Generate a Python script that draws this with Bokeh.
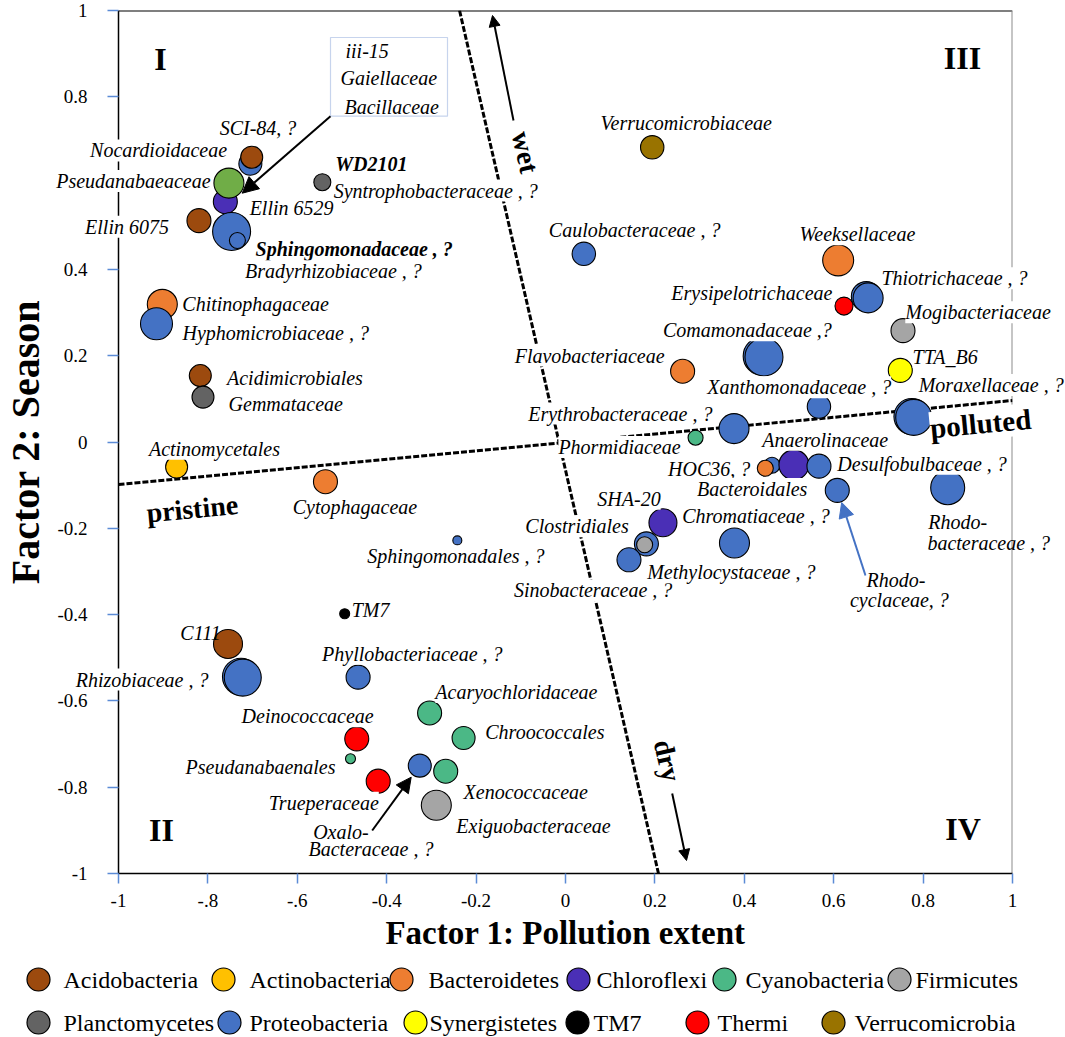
from bokeh.plotting import figure
from bokeh.models import (ColumnDataSource, Span, Arrow, NormalHead,
                          BoxAnnotation, FixedTicker, Range1d)
from bokeh.core.properties import value
from bokeh.embed import file_html
from bokeh.resources import INLINE

SERIF = "Liberation Serif"

# ------------------------------------------------------------------ data
phyla = ["Acidobacteria", "Actinobacteria", "Bacteroidetes", "Chloroflexi", "Cyanobacteria", "Firmicutes",
         "Planctomycetes", "Proteobacteria", "Synergistetes", "TM7", "Thermi", "Verrucomicrobia"]
phylum_colors = ["#9c4a0e", "#ffc000", "#ed7d31", "#4a2fb6", "#4bb886", "#a5a5a5",
                 "#636363", "#4472c4", "#ffff00", "#000000", "#ff0000", "#997300"]
unassigned_color = "#70ad47"

# family-level bubbles: Factor 1 (pollution extent), Factor 2 (season)
factor1 = [-0.705, -0.702, -0.761, -0.753, -0.820, -0.747, -0.734, -0.544, -0.902, -0.915,
           -0.817, -0.811, -0.870, -0.537, -0.242, 0.194, 0.041, 0.610, 0.673, 0.677,
           0.623, 0.755, 0.440, 0.444, 0.262, 0.749, 0.567, 0.775, 0.779, 0.377,
           0.291, 0.462, 0.447, 0.511, 0.567, 0.608, 0.855, 0.218, 0.181, 0.177,
           0.142, 0.378, -0.494, -0.755, -0.726, -0.722, -0.464, -0.304, -0.228, -0.467,
           -0.481, -0.326, -0.268, -0.419, -0.289]
factor2 = [0.645, 0.660, 0.557, 0.600, 0.513, 0.488, 0.467, 0.602, 0.319, 0.274,
           0.154, 0.104, -0.058, -0.092, -0.228, 0.683, 0.436, 0.421, 0.337, 0.334,
           0.315, 0.258, 0.199, 0.197, 0.164, 0.166, 0.082, 0.059, 0.057, 0.031,
           0.010, -0.054, -0.061, -0.053, -0.056, -0.112, -0.106, -0.187, -0.236, -0.238,
           -0.273, -0.234, -0.398, -0.468, -0.544, -0.546, -0.545, -0.628, -0.686, -0.688,
           -0.734, -0.750, -0.763, -0.786, -0.842]
phylum = ["Proteobacteria", "Acidobacteria", "Chloroflexi", "Unassigned", "Acidobacteria",
          "Proteobacteria", "Proteobacteria", "Planctomycetes", "Bacteroidetes", "Proteobacteria",
          "Acidobacteria", "Planctomycetes", "Actinobacteria", "Bacteroidetes", "Proteobacteria",
          "Verrucomicrobia", "Proteobacteria", "Bacteroidetes", "Proteobacteria", "Proteobacteria",
          "Thermi", "Firmicutes", "Proteobacteria", "Proteobacteria", "Bacteroidetes",
          "Synergistetes", "Proteobacteria", "Proteobacteria", "Proteobacteria", "Proteobacteria",
          "Cyanobacteria", "Proteobacteria", "Bacteroidetes", "Chloroflexi", "Proteobacteria",
          "Proteobacteria", "Proteobacteria", "Chloroflexi", "Proteobacteria", "Firmicutes",
          "Proteobacteria", "Proteobacteria", "TM7", "Acidobacteria", "Proteobacteria",
          "Proteobacteria", "Proteobacteria", "Cyanobacteria", "Cyanobacteria", "Thermi",
          "Cyanobacteria", "Proteobacteria", "Cyanobacteria", "Thermi", "Firmicutes"]
bubble_radius = [11.5, 11, 12, 15, 12, 19, 8, 8.5, 15, 16,
                 11, 11, 11, 12, 4.5, 11.7, 11.7, 15.5, 15, 15,
                 9, 12, 19, 19, 12, 12, 11.7, 18, 18, 15,
                 7.5, 8, 8, 15, 12, 12, 17, 14, 12, 8,
                 12, 15, 5, 14.5, 18.5, 18.5, 12, 12, 11.5, 12,
                 5, 11.5, 12, 12, 15]

# taxon names and the bubble each one names
taxon_names = ["SCI-84, ?", "Nocardioidaceae", "Pseudanabaeaceae", "Ellin 6529", "Ellin 6075",
               "Sphingomonadaceae , ?", "Bradyrhizobiaceae , ?", "WD2101", "Syntrophobacteraceae , ?",
               "Chitinophagaceae", "Hyphomicrobiaceae , ?", "Acidimicrobiales", "Gemmataceae",
               "Actinomycetales", "Cytophagaceae", "Sphingomonadales , ?", "Verrucomicrobiaceae",
               "Caulobacteraceae , ?", "Weeksellaceae", "Thiotrichaceae , ?", "Erysipelotrichaceae",
               "Mogibacteriaceae", "Comamonadaceae ,?", "Flavobacteriaceae", "TTA_B6",
               "Xanthomonadaceae , ?", "Moraxellaceae , ?", "Erythrobacteraceae , ?", "Phormidiaceae",
               "HOC36, ?", "Anaerolinaceae", "Desulfobulbaceae , ?", "Bacteroidales",
               "Rhodo-", "cyclaceae, ?", "Rhodo-", "bacteraceae , ?", "SHA-20", "Clostridiales",
               "Sinobacteraceae , ?", "Chromatiaceae , ?", "Methylocystaceae , ?", "TM7", "C111",
               "Rhizobiaceae , ?", "Phyllobacteriaceae , ?", "Acaryochloridaceae", "Chroococcales",
               "Deinococcaceae", "Pseudanabaenales", "Oxalo-", "Bacteraceae , ?", "Xenococcaceae",
               "Trueperaceae", "Exiguobacteraceae"]
taxon_bubble = [1, 0, 3, 2, 4, 5, 6, 7, 7, 8, 9, 10, 11, 12, 13, 14, 15, 16, 17, 19, 20, 21, 23, 24, 25,
                26, 28, 29, 30, 32, 33, 34, 32, 35, 35, 36, 36, 37, 38, 40, 41, 41, 42, 43, 45, 46, 47,
                48, 49, 50, 51, 51, 52, 53, 54]
boxed_taxa = ["iii-15", "Gaiellaceae", "Bacillaceae"]

tick_values = [-1, -0.8, -0.6, -0.4, -0.2, 0, 0.2, 0.4, 0.6, 0.8, 1]
x_tick_labels = ["-1", "-.8", "-.6", "-0.4", "-0.2", "0", "0.2", "0.4", "0.6", "0.8", "1"]
y_tick_labels = ["-1", "-0.8", "-0.6", "-0.4", "-0.2", "0", "0.2", "0.4", "0.6", "0.8", "1"]

# ------------------------------------------------------------------ layout (pixels)
FRAME_L, FRAME_T, FRAME_W, FRAME_H = 118, 10, 894, 863
PX_X = FRAME_W / 2.0        # pixels per unit of factor 1
PX_Y = FRAME_H / 2.0        # pixels per unit of factor 2


def fx(px):                 # canvas x pixel -> factor-1 coordinate
    return (px - FRAME_L) / PX_X - 1


def fy(py):                 # canvas y pixel -> factor-2 coordinate
    return 1 - (py - FRAME_T) / PX_Y


# label placement relative to its bubble: (dx px, dy px up, align, style, white background)
label_layout = [
    (-32, 29.4, "left", "italic", 1), (-23.3, 13.3, "right", "italic", 1), (-18.3, 2, "right", "italic", 1),
    (24.3, -6.3, "left", "italic", 1), (-30, -6, "right", "italic", 1), (24, -17.3, "left", "bold italic", 1),
    (7.6, -30.7, "left", "italic", 1), (13, 18.4, "left", "bold italic", 1), (11.3, -8.3, "left", "italic", 1),
    (20, 0, "left", "italic", 1), (26, -9.7, "left", "italic", 1), (26.7, -2.3, "left", "italic", 1),
    (25.6, -6.6, "left", "italic", 1), (-27.7, 18.4, "left", "italic", 1), (-32.7, -25.7, "left", "italic", 1),
    (-90, -16, "left", "italic", 1), (-51.7, 24, "left", "italic", 1), (-35, 24, "left", "italic", 1),
    (-38.7, 26, "left", "italic", 1), (13.3, 19.6, "left", "italic", 1), (-11.6, 13, "right", "italic", 1),
    (2.3, 18.3, "left", "italic", 1), (-101, 26.7, "left", "italic", 1), (-18, 15.7, "right", "italic", 1),
    (12.3, 13.3, "left", "italic", 1), (-111.6, 19.3, "left", "italic", 1), (5, 32.4, "left", "italic", 1),
    (-21.6, 15, "right", "italic", 1), (-15, -9.4, "right", "italic", 1), (-15, -0.6, "right", "italic", 1),
    (-31.6, 25, "left", "italic", 1), (18.4, 2.4, "left", "italic", 1), (-68.3, -20.6, "left", "italic", 1),
    (29.3, -89.3, "left", "italic", 1), (12.7, -110, "left", "italic", 0), (-19.5, -34.4, "left", "italic", 1),
    (-20.3, -55, "left", "italic", 0), (-65.6, 24, "left", "italic", 1), (-17.7, 17.6, "right", "italic", 1),
    (-115, -30.7, "left", "italic", 1), (-52.3, 27.3, "left", "italic", 1), (-87.3, -29.4, "left", "italic", 1),
    (7, 3.3, "left", "italic", 1), (-47.7, 10.6, "left", "italic", 0), (-34.3, -2, "right", "italic", 1),
    (-36, 23.4, "left", "italic", 1), (5.7, 21, "left", "italic", 1), (21.7, 6, "left", "italic", 1),
    (17, 22.6, "right", "italic", 1), (-15, -8.4, "right", "italic", 1), (-106.6, -66.7, "left", "italic", 0),
    (-111.3, -83.3, "left", "italic", 0), (17.9, -21, "left", "italic", 1), (0.6, -21.6, "right", "italic", 1),
    (20, -21, "left", "italic", 1),
]

color_of = dict(zip(phyla, phylum_colors))
color_of["Unassigned"] = unassigned_color

# ------------------------------------------------------------------ figure
p = figure(frame_width=FRAME_W, frame_height=FRAME_H, x_range=Range1d(-1, 1), y_range=Range1d(-1, 1),
           toolbar_location=None, output_backend="svg",
           min_border_left=FRAME_L, min_border_right=1065 - FRAME_L - FRAME_W, min_border_top=FRAME_T,
           min_border_bottom=1037 - FRAME_T - FRAME_H,
           outline_line_color=None, background_fill_color="white", border_fill_color="white")
p.xgrid.visible = False
p.ygrid.visible = False

for ax, labels in ((p.xaxis[0], x_tick_labels), (p.yaxis[0], y_tick_labels)):
    ax.ticker = FixedTicker(ticks=tick_values)
    ax.major_label_overrides = {float(t): l for t, l in zip(tick_values, labels)}
    ax.major_tick_in = 0
    ax.major_tick_line_color = "#5b8bd6"
    ax.major_tick_line_width = 1.5
    ax.minor_tick_line_color = None
    ax.axis_line_color = "black"
    ax.axis_line_width = 1.5
    ax.major_label_text_font = SERIF
    ax.major_label_text_font_size = "19px"
    ax.major_label_text_color = "black"
    ax.axis_label_text_font = SERIF
    ax.axis_label_text_font_style = "bold"
    ax.axis_label_text_color = "black"

p.xaxis.axis_label = "Factor 1: Pollution extent"
p.yaxis.axis_label = "Factor 2: Season"
p.xaxis.axis_label_text_font_size = "33px"
p.yaxis.axis_label_text_font_size = "40px"
p.xaxis.major_tick_out = 10
p.xaxis.major_label_standoff = 10
p.xaxis.axis_label_standoff = 5
p.yaxis.major_tick_out = 11
p.yaxis.major_label_standoff = 20
p.yaxis.axis_label_standoff = 6

p.add_layout(Span(location=1, dimension="width", line_color="black", line_width=2, level="underlay"))
p.add_layout(Span(location=1, dimension="height", line_color="#8c8c8c", line_width=2, level="underlay"))

# box listing taxa hidden under the bubble
p.add_layout(BoxAnnotation(left=fx(330), right=fx(447), bottom=fy(115.7), top=fy(37),
                           fill_color="white", fill_alpha=1, line_color="#4472c4", line_width=1.2,
                           level="underlay"))

# interpretation axes (pollution and season directions)
pollution_axis_f1 = [-1, 1]
pollution_axis_f2 = [-0.0985, 0.0962]
season_axis_f1 = [-0.237, 0.208]
season_axis_f2 = [1, -1]
p.line(pollution_axis_f1, pollution_axis_f2, line_color="black", line_width=3, line_dash="6 2")
p.line(season_axis_f1, season_axis_f2, line_color="black", line_width=3, line_dash="6 2")

src = ColumnDataSource(dict(x=factor1, y=factor2,
                            color=[color_of[ph] for ph in phylum],
                            size=[2 * r for r in bubble_radius]))
p.scatter("x", "y", source=src, size="size", fill_color="color", line_color="black", line_width=1.1)

# arrows
arrow_specs = [
    ((330, 115.7), (241.7, 192.7), "black", 16),
    ((513, 120), (492, 15), "black", 11),
    ((671.7, 793), (686, 860), "black", 11),
    ((371.7, 830), (410.7, 776.7), "black", 15),
    ((865, 575), (841.2, 502), "#4472c4", 15),
]
for (xs, ys), (xe, ye), col, hs in arrow_specs:
    p.add_layout(Arrow(x_start=fx(xs), y_start=fy(ys), x_end=fx(xe), y_end=fy(ye), line_color=col,
                       line_width=2, end=NormalHead(size=hs, fill_color=col, line_color=col)))

# taxon labels (drawn above the axes so that their white boxes mask lines, as in the original)
lab = dict(x=[], y=[], text=[], align=[], style=[], bga=[])
for name, bi, (dx, dy, al, st, bg) in zip(taxon_names, taxon_bubble, label_layout):
    lab["x"].append(factor1[bi] + dx / PX_X)
    lab["y"].append(factor2[bi] + dy / PX_Y)
    lab["text"].append(name)
    lab["align"].append(al)
    lab["style"].append(st)
    lab["bga"].append(float(bg))
boxed_px = [(345, 50.7), (340, 77), (344, 106.7)]
for name, (bx, by) in zip(boxed_taxa, boxed_px):
    lab["x"].append(fx(bx)); lab["y"].append(fy(by)); lab["text"].append(name)
    lab["align"].append("left"); lab["style"].append("italic"); lab["bga"].append(0.0)

p.text(x="x", y="y", text="text", source=ColumnDataSource(lab), text_align="align",
       text_font_style="style", text_baseline="middle", text_font=value(SERIF),
       text_font_size=value("20px"), text_color="black",
       background_fill_color="white", background_fill_alpha="bga", level="overlay")

# quadrant numerals and direction words
marks_px = [(160, 58.3), (161, 829), (962, 57), (962.5, 828), (525, 151.7), (667, 760), (191.7, 508.3), (980, 423)]
marks = dict(text=["I", "II", "III", "IV", "wet", "dry", "pristine", "polluted"],
             x=[fx(a) for a, b in marks_px], y=[fy(b) for a, b in marks_px],
             angle=[0, 0, 0, 0, -1.346, -1.346, 0.094, 0.094],
             size=["32px", "32px", "32px", "32px", "28px", "28px", "28px", "29px"])
p.text(x="x", y="y", text="text", angle="angle", source=ColumnDataSource(marks), text_align="center",
       text_baseline="middle", text_font=value(SERIF), text_font_size="size",
       text_font_style="bold", text_color="black",
       background_fill_color="white", background_fill_alpha=1.0, level="overlay")

# ------------------------------------------------------------------ legend (below the axis title)
leg_circle_px = [38, 223, 401, 578, 724, 899, 38, 229, 415, 577, 697, 833]
leg_text_px = [63, 249, 428, 596, 745, 915, 63, 249, 429, 593, 717, 854]
leg_row_px = [979] * 6 + [1022] * 6
p.ellipse(x=[fx(v) for v in leg_circle_px], y=[fy(v) for v in leg_row_px], width=23, height=23,
          width_units="screen", height_units="screen", fill_color=phylum_colors,
          line_color="black", line_width=1.2, level="overlay")
p.text(x=[fx(v) for v in leg_text_px], y=[fy(v) for v in leg_row_px], text=phyla,
       text_align="left", text_baseline="middle", text_font=value(SERIF),
       text_font_size=value("24px"), text_color="black", level="overlay")

open("out.html", "w").write(file_html(p, INLINE))
